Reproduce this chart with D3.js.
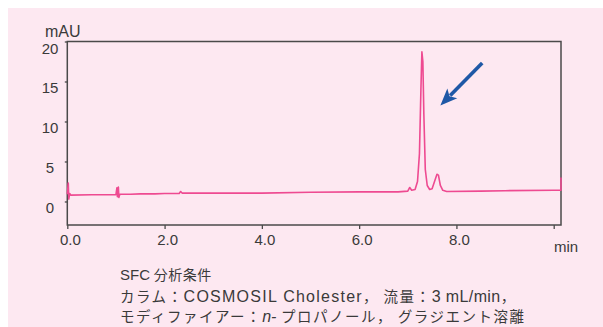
<!DOCTYPE html>
<html>
<head>
<meta charset="utf-8">
<script src="https://cdn.jsdelivr.net/npm/d3@7/dist/d3.min.js"></script>
<style>
  html, body { margin: 0; padding: 0; background: #ffffff; }
  svg { display: block; }
</style>
</head>
<body>
<svg id="chart" width="603" height="327"></svg>
<script>
// Retention time (min) and detector response (mAU) of the SFC trace
const times = [
  0.00, 0.02, 0.03, 0.05, 0.07, 0.50, 1.00, 1.02, 1.03, 1.05, 1.06, 1.08,
  1.30, 1.50, 1.80, 2.00, 2.30, 2.33, 2.36, 3.00, 4.00, 5.00, 6.00, 6.80,
  7.00, 7.04, 7.08, 7.15, 7.20, 7.24, 7.27, 7.29, 7.31, 7.33, 7.36, 7.40,
  7.45, 7.50, 7.55, 7.60, 7.63, 7.67, 7.72, 7.80, 8.50, 9.00, 10.00, 10.15, 10.15
];
const mAU = [
  0.9, 2.3, 0.3, 1.0, 0.8, 0.85, 0.85, 1.7, 0.6, 1.8, 0.5, 0.9,
  0.9, 0.95, 0.95, 1.0, 1.0, 1.25, 1.05, 1.05, 1.05, 1.15, 1.2, 1.2,
  1.3, 1.75, 1.4, 1.5, 2.5, 6.0, 14.0, 18.7, 17.5, 11.0, 4.0, 2.0,
  1.5, 1.6, 2.5, 3.4, 3.3, 2.0, 1.4, 1.25, 1.3, 1.35, 1.4, 1.4, 3.0
];

// Axis ticks
const xTicks = [0, 2, 4, 6, 8, 10];
const xTickLabels = ["0.0", "2.0", "4.0", "6.0", "8.0", ""];
const yTicks = [0, 5, 10, 15, 20];
const yTickLabels = ["0", "5", "10", "15", "20"];

// Arrow pointing at the peak (time, mAU): tail then tip
const arrowTail = [8.53, 17.3];
const arrowTip = [7.67, 12.0];

// Analytical conditions (latin runs are set in a Latin face)
const conditionLines = [
  [{ t: "SFC", latin: true }, { t: " 分析条件" }],
  [{ t: "カラム：" }, { t: "COSMOSIL Cholester", latin: true, spacing: 1.25 },
   { t: "， 流量：" }, { t: "3 mL/min", latin: true, spacing: 0.4 }, { t: "，" }],
  [{ t: "モディファイアー：" }, { t: "n-", latin: true, italic: true },
   { t: " プロパノール， グラジエント溶離" }]
];

const svg = d3.select("#chart");
const ink = "#3a3a3a";
const latinFont = "Liberation Sans, Arial, sans-serif";

// Panel background
svg.append("rect")
  .attr("x", 8).attr("y", 8)
  .attr("width", 603 - 8).attr("height", 327 - 8)
  .attr("fill", "#fde8f1");

const plot = { left: 67.3, right: 561, top: 41.5, bottom: 225 };

const x = d3.scaleLinear().domain([0, 10.15]).range([plot.left, plot.right]);
const y = d3.scaleLinear().domain([-2.94, 20]).range([plot.bottom, plot.top]);

// Plot frame
svg.append("rect")
  .attr("x", plot.left).attr("y", plot.top)
  .attr("width", plot.right - plot.left).attr("height", plot.bottom - plot.top)
  .attr("fill", "none").attr("stroke", "#4a4a4a").attr("stroke-width", 1.5);

// X axis
const xAxis = d3.axisBottom(x)
  .tickValues(xTicks)
  .tickSize(4)
  .tickFormat((d, i) => xTickLabels[i]);
const gx = svg.append("g")
  .attr("transform", `translate(0,${plot.bottom})`)
  .call(xAxis);
gx.select(".domain").remove();
gx.selectAll(".tick line").attr("stroke", "#4a4a4a").attr("stroke-width", 1.3);
gx.selectAll(".tick text")
  .attr("fill", ink)
  .attr("font-family", latinFont)
  .attr("font-size", 15)
  .attr("dx", 2.5)
  .attr("y", 0).attr("dy", 0)
  .attr("transform", "translate(0,20)");

// Y axis
const yAxis = d3.axisLeft(y)
  .tickValues(yTicks)
  .tickSize(2.5)
  .tickFormat((d, i) => yTickLabels[i]);
const gy = svg.append("g")
  .attr("transform", `translate(${plot.left},0)`)
  .call(yAxis);
gy.select(".domain").remove();
gy.selectAll(".tick line").attr("stroke", "#4a4a4a").attr("stroke-width", 1.3);
gy.selectAll(".tick text")
  .attr("fill", ink)
  .attr("font-family", latinFont)
  .attr("font-size", 15)
  .attr("text-anchor", "middle")
  .attr("x", 50 - plot.left)
  .attr("dy", 11.5);

// Axis titles
svg.append("text")
  .attr("x", 45).attr("y", 36.5)
  .attr("fill", ink)
  .attr("font-family", latinFont)
  .attr("font-size", 16)
  .text("mAU");
svg.append("text")
  .attr("x", 566).attr("y", 252)
  .attr("text-anchor", "middle")
  .attr("fill", ink)
  .attr("font-family", latinFont)
  .attr("font-size", 15)
  .text("min");

// Chromatogram trace
const pts = times.map((t, i) => [t, mAU[i]]);
svg.append("path")
  .datum(pts)
  .attr("fill", "none")
  .attr("stroke", "#ee4a91")
  .attr("stroke-width", 1.6)
  .attr("stroke-linejoin", "round")
  .attr("d", d3.line().x(d => x(d[0])).y(d => y(d[1])));

// Arrow annotation
const ax0 = x(arrowTail[0]), ay0 = y(arrowTail[1]);
const ax1 = x(arrowTip[0]), ay1 = y(arrowTip[1]);
const ang = Math.atan2(ay1 - ay0, ax1 - ax0);
const headLen = 17, headHalf = 7;
const bx = ax1 - headLen * Math.cos(ang), by = ay1 - headLen * Math.sin(ang);
svg.append("line")
  .attr("x1", ax0).attr("y1", ay0)
  .attr("x2", bx + 3 * Math.cos(ang)).attr("y2", by + 3 * Math.sin(ang))
  .attr("stroke", "#1f58a6").attr("stroke-width", 3.6);
svg.append("path")
  .attr("fill", "#1f58a6")
  .attr("d", d3.line()([
    [ax1, ay1],
    [bx - headHalf * Math.sin(ang), by + headHalf * Math.cos(ang)],
    [bx + 4 * Math.cos(ang), by + 4 * Math.sin(ang)],
    [bx + headHalf * Math.sin(ang), by - headHalf * Math.cos(ang)]
  ]) + "Z");

// Conditions text block: kana/kanji at a slightly smaller size with
// tracking, Latin runs at full size
const txt = svg.append("g")
  .attr("font-family", "Noto Sans CJK JP, sans-serif")
  .attr("fill", ink);
const lineSizes = [14, 14.5, 14.5];
const lineTracking = [0.5, 1.5, 1.5];
const latinSizes = [15, 16, 16];
const lineBaselines = [280, 301.5, 322];
conditionLines.forEach((line, i) => {
  const t = txt.append("text")
    .attr("x", 120)
    .attr("y", lineBaselines[i])
    .attr("font-size", lineSizes[i]);
  line.forEach(seg => {
    t.append("tspan")
      .attr("font-style", seg.italic ? "italic" : "normal")
      .attr("font-family", seg.latin ? latinFont : null)
      .attr("font-size", seg.latin ? latinSizes[i] : null)
      .attr("letter-spacing", seg.latin ? (seg.spacing || 0) : lineTracking[i])
      .text(seg.t);
  });
});
</script>
</body>
</html>
